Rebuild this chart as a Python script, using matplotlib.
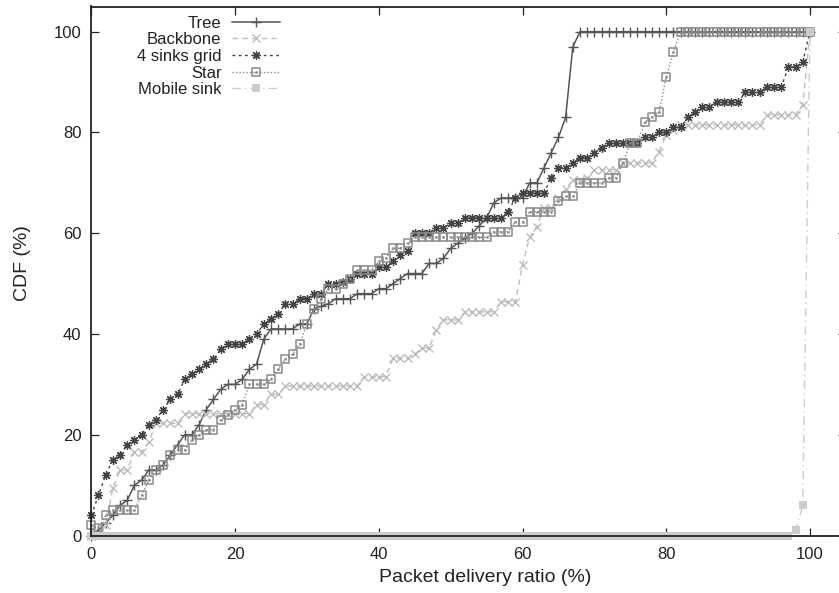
import numpy as np
import matplotlib
matplotlib.use("Agg")
import matplotlib.pyplot as plt
from matplotlib.path import Path

plt.rcParams['font.family'] = ['Liberation Sans', 'DejaVu Sans']

# ---------------- data (x = packet delivery ratio %, 0..100) ----------------
pdr = list(range(0, 101))

tree = [0, 1, 2.5, 4, 6, 7, 10, 11, 13, 13,
        14, 16, 18, 20, 20, 22, 25, 27, 29, 30,
        30, 31, 33, 34, 39, 41, 41, 41, 41, 42,
        42, 45, 45.5, 46, 47, 47, 47, 48, 48, 48,
        49, 49, 50, 51, 52, 52, 52, 54, 54, 55,
        57, 58, 59, 60, 61.5, 63, 66, 67, 67, 67,
        67, 70, 70, 73, 76, 79, 83, 97] + [100] * 33

backbone = [0, 0.5, 2, 9.4, 13, 13, 16.6, 16.6, 18.5, 22.3,
            22.3, 22.3, 22.3] + [24.2] * 10 + [26, 26, 28, 28] + [29.7] * 11 + \
           [31.5] * 4 + [35.2] * 3 + [36, 37.2, 37.2, 40.8] + [42.8] * 3 + \
           [44.4] * 5 + [46.4] * 3 + [53.7, 59.3, 61.3, 65, 65, 67, 68.7, 70.6,
           70.6, 71, 72.6, 72.6, 72.6, 72.6] + [74] * 5 + [76.2, 79.5, 80.5] + \
           [81.5] * 12 + [83.5] * 5 + [85.5, 100]

sinks4 = [4, 8, 12, 15, 16, 18, 19, 20, 22, 23,
          25, 27, 28, 31, 32, 33, 34, 35, 37, 38,
          38, 38, 39, 40, 42, 43, 44, 46, 46, 47,
          47, 48, 48, 50, 50, 50.4, 51, 52, 52, 52,
          53.3, 53.3, 54.5, 55.7, 56.4, 60, 60, 60, 61, 61,
          62, 62] + [63] * 6 + [64.3, 67, 68, 68, 68, 68, 71, 73, 73, 74,
          75, 75, 76, 77, 78, 78, 78, 78, 78, 79,
          79, 80, 80, 81, 81, 83, 84, 85, 85] + [86] * 4 + [88] * 3 + \
         [89] * 3 + [93, 93, 94, 100]

star = [2, 1.4, 4, 5, 5, 5, 5, 8, 11, 13,
        14, 16, 17, 17, 19, 20, 21, 21, 23, 24,
        25, 26, 30, 30, 30, 31, 33, 35, 36, 38,
        42, 45, 47, 49, 49, 50, 51, 52.7, 52.7, 52.7,
        54.4, 55, 57, 57, 58] + [59.2] * 11 + [60.3] * 3 + \
       [62.3, 62.3] + [64.3] * 4 + [66.3, 67.3, 67.3] + [70] * 4 + \
       [71, 71, 74, 78, 78, 82, 83, 84, 91, 96] + [100] * 19

mobile = [0] * 98 + [1, 6, 100]

labels = ["Tree", "Backbone", "4 sinks grid", "Star", "Mobile sink"]

# ---------------- figure ----------------
W, H = 839, 593
fig = plt.figure(figsize=(W / 100, H / 100), dpi=100)
ax = fig.add_axes([91.3 / W, 57.5 / H, 754.6 / W, 529.0 / H])

# custom marker: open square with a dot in the centre
sq = Path([(-1, -1), (1, -1), (1, 1), (-1, 1), (-1, -1)],
          [Path.MOVETO, Path.LINETO, Path.LINETO, Path.LINETO, Path.CLOSEPOLY])
dot = Path([(-0.12, -0.12), (0.12, -0.12), (0.12, 0.12), (-0.12, 0.12), (-0.12, -0.12)],
           [Path.MOVETO, Path.LINETO, Path.LINETO, Path.LINETO, Path.CLOSEPOLY])
sqdot = Path.make_compound_path(sq, dot)

h1, = ax.plot(pdr, tree, color="#555555", lw=1.1, ls="-",
              marker="+", ms=6.5, mew=1.0, clip_on=False, label=labels[0])
h2, = ax.plot(pdr, backbone, color="#bdbdbd", lw=1.0, ls=(0, (4, 3)),
              marker="x", ms=5.5, mew=1.0, clip_on=False, label=labels[1])
h3, = ax.plot(pdr, sinks4, color="#444444", lw=1.0, ls=(0, (2, 2.5)),
              marker=(8, 2, 0), ms=6.5, mew=0.9, clip_on=False, label=labels[2])
h4, = ax.plot(pdr, star, color="#8a8a8a", lw=1.0, ls=(0, (1, 1.5)),
              marker=sqdot, ms=6, mew=1.1, mfc="none", mec="#8a8a8a",
              clip_on=False, label=labels[3])
h5, = ax.plot(pdr, mobile, color="#cccccc", lw=1.0, ls=(0, (6, 3, 1, 3)),
              marker="s", ms=6, mew=0, mfc="#cccccc", clip_on=False,
              label=labels[4])

ax.set_xlim(0, 105)
ax.set_ylim(0, 105)
ax.set_xticks([0, 20, 40, 60, 80, 100])
ax.set_yticks([0, 20, 40, 60, 80, 100])

for s in ax.spines.values():
    s.set_linewidth(1.3)
    s.set_color("#222222")
    s.set_zorder(3)

ax.tick_params(direction="in", length=5.5, width=0.9, top=True, right=True,
               labelsize=12, colors="#222222", pad=7)
ax.tick_params(axis="x", pad=8)

ax.set_xlabel("Packet delivery ratio (%)", fontsize=14, color="#222222")
ax.set_ylabel("CDF (%)", fontsize=14, color="#222222")
ax.xaxis.label.set_verticalalignment("center")
ax.yaxis.label.set_verticalalignment("center")
ax.xaxis.set_label_coords((485.5 - 91.3) / 754.6, (535.5 - 577.5) / 529.0)
ax.yaxis.set_label_coords((23 - 91.3) / 754.6, (535.5 - 263.3) / 529.0)

leg = ax.legend(handles=[h1, h2, h3, h4, h5], loc="upper left",
                bbox_to_anchor=(137 / W, 1 - 15.5 / H),
                bbox_transform=fig.transFigure, markerfirst=False,
                frameon=False, fontsize=12, handlelength=2.9,
                handletextpad=0.6, labelspacing=0.1, borderpad=0,
                borderaxespad=0, numpoints=1)
for t in leg.get_texts():
    t.set_color("#222222")
leg.set_zorder(5)

fig.savefig("out.png", dpi=100)
